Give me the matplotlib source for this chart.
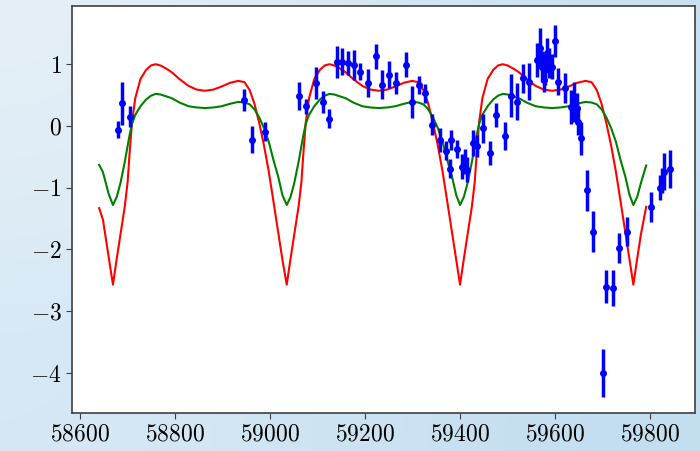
import matplotlib
matplotlib.use("Agg")
import matplotlib.pyplot as plt
import numpy as np

plt.rcParams['font.family'] = 'serif'
plt.rcParams['font.serif'] = ['cmr10', 'DejaVu Serif']
plt.rcParams['mathtext.fontset'] = 'cm'
plt.rcParams['axes.formatter.use_mathtext'] = True

# observed points: time (MJD), value, error
obs_t = [58679, 58689, 58704, 58945, 58961, 58989, 59060, 59076, 59096, 59111,
         59125, 59140, 59151, 59163, 59177, 59189, 59207, 59222, 59235, 59251,
         59265, 59286, 59298, 59314, 59326, 59340, 59358, 59371, 59378, 59381,
         59393, 59404, 59411, 59415, 59427, 59435, 59448, 59463, 59475, 59495,
         59507, 59519, 59533, 59546, 59561, 59568, 59572, 59577, 59579, 59584,
         59588, 59593, 59600, 59607, 59620, 59634, 59641, 59646, 59649, 59654,
         59668, 59679, 59700, 59707, 59723, 59735, 59752, 59802, 59822, 59826,
         59830, 59842]
obs_y = [-0.06, 0.37, 0.15, 0.42, -0.22, -0.09, 0.49, 0.32, 0.69, 0.39,
         0.12, 1.04, 1.04, 1.02, 0.99, 0.88, 0.70, 1.13, 0.67, 0.83,
         0.69, 0.99, 0.39, 0.66, 0.53, 0.02, -0.23, -0.40, -0.69, -0.23,
         -0.37, -0.66, -0.58, -0.71, -0.28, -0.33, -0.04, -0.44, 0.18, -0.16,
         0.49, 0.39, 0.77, 0.72, 1.07, 1.26, 0.96, 0.75, 0.91, 1.18,
         1.02, 0.96, 1.37, 0.72, 0.61, 0.31, 0.39, 0.29, 0.07, -0.20,
         -1.04, -1.71, -4.00, -2.60, -2.63, -1.98, -1.71, -1.31, -1.00, -0.88,
         -0.74, -0.70]
obs_err = [0.14, 0.35, 0.17, 0.18, 0.22, 0.15, 0.23, 0.12, 0.26, 0.18,
           0.16, 0.26, 0.22, 0.19, 0.24, 0.14, 0.23, 0.20, 0.24, 0.22,
           0.18, 0.20, 0.26, 0.15, 0.15, 0.17, 0.19, 0.15, 0.16, 0.16,
           0.15, 0.20, 0.20, 0.20, 0.21, 0.18, 0.24, 0.20, 0.20, 0.23,
           0.35, 0.30, 0.24, 0.30, 0.27, 0.32, 0.25, 0.20, 0.25, 0.25,
           0.25, 0.20, 0.26, 0.22, 0.24, 0.27, 0.33, 0.25, 0.22, 0.27,
           0.33, 0.33, 0.39, 0.26, 0.29, 0.24, 0.23, 0.24, 0.20, 0.20,
           0.30, 0.31]

# model curves
model_t = [58640, 58648, 58660,
           58669, 58677, 58685, 58694, 58700, 58704, 58709, 58716, 58727, 58739,
           58749, 58759, 58769, 58781, 58793, 58809, 58828, 58845, 58863, 58881,
           58898, 58916, 58933, 58946, 58957, 58967, 58977, 58987, 58997, 59007,
           59017, 59026,
           59035, 59043, 59051, 59060, 59066, 59070, 59075, 59082, 59093, 59105,
           59115, 59125, 59135, 59147, 59159, 59175, 59194, 59211, 59229, 59247,
           59264, 59282, 59299, 59312, 59323, 59333, 59343, 59353, 59363, 59373,
           59383, 59392,
           59400, 59408, 59416, 59425, 59431, 59435, 59440, 59447, 59458, 59470,
           59480, 59490, 59500, 59512, 59524, 59540, 59559, 59576, 59594, 59612,
           59629, 59647, 59664, 59677, 59688, 59698, 59708, 59718, 59728, 59738,
           59748, 59757,
           59765, 59773, 59781, 59792]
model_red = [-1.33, -1.52, -2.12,
             -2.57, -2.15, -1.75, -1.30, -0.90, -0.45, 0.05, 0.45, 0.76, 0.91,
             0.98, 1.00, 0.98, 0.93, 0.87, 0.76, 0.65, 0.59, 0.57, 0.59,
             0.64, 0.70, 0.73, 0.71, 0.58, 0.36, 0.05, -0.31, -0.73, -1.22,
             -1.72, -2.17,
             -2.57, -2.15, -1.75, -1.30, -0.90, -0.45, 0.05, 0.45, 0.76, 0.91,
             0.98, 1.00, 0.98, 0.93, 0.87, 0.76, 0.65, 0.59, 0.57, 0.59,
             0.64, 0.70, 0.73, 0.71, 0.58, 0.36, 0.05, -0.31, -0.73, -1.22,
             -1.72, -2.17,
             -2.57, -2.15, -1.75, -1.30, -0.90, -0.45, 0.05, 0.45, 0.76, 0.91,
             0.98, 1.00, 0.98, 0.93, 0.87, 0.76, 0.65, 0.59, 0.57, 0.59,
             0.64, 0.70, 0.73, 0.71, 0.58, 0.36, 0.05, -0.31, -0.73, -1.22,
             -1.72, -2.17,
             -2.57, -2.15, -1.75, -1.31]
model_green = [-0.63, -0.75, -1.10,
               -1.28, -1.15, -0.92, -0.58, -0.32, -0.15, 0.03, 0.18, 0.32, 0.43,
               0.49, 0.52, 0.51, 0.48, 0.45, 0.38, 0.32, 0.30, 0.29, 0.30,
               0.32, 0.36, 0.39, 0.38, 0.35, 0.27, 0.14, -0.03, -0.25, -0.55,
               -0.82, -1.12,
               -1.28, -1.15, -0.92, -0.58, -0.32, -0.15, 0.03, 0.18, 0.32, 0.43,
               0.49, 0.52, 0.51, 0.48, 0.45, 0.38, 0.32, 0.30, 0.29, 0.30,
               0.32, 0.36, 0.39, 0.38, 0.35, 0.27, 0.14, -0.03, -0.25, -0.55,
               -0.82, -1.12,
               -1.28, -1.15, -0.92, -0.58, -0.32, -0.15, 0.03, 0.18, 0.32, 0.43,
               0.49, 0.52, 0.51, 0.48, 0.45, 0.38, 0.32, 0.30, 0.29, 0.30,
               0.32, 0.36, 0.39, 0.38, 0.35, 0.27, 0.14, -0.03, -0.25, -0.55,
               -0.82, -1.12,
               -1.28, -1.15, -0.92, -0.64]

fig = plt.figure(figsize=(7.0, 4.51), dpi=100)

# light blue gradient backdrop behind the axes
bg = fig.add_axes([0, 0, 1, 1], zorder=0)
corners = np.array([[[0.90, 0.94, 0.97], [0.79, 0.88, 0.94]],
                    [[0.84, 0.91, 0.96], [0.76, 0.87, 0.94]]])
bg.imshow(corners, interpolation='bicubic', aspect='auto', extent=[0, 1, 0, 1])
bg.axis('off')

ax = fig.add_axes([0.103, 0.084, 0.890, 0.903], zorder=1)
ax.set_facecolor('white')

ax.plot(model_t, model_red, color='red', lw=1.5)
ax.plot(model_t, model_green, color='green', lw=1.5)
ax.errorbar(obs_t, obs_y, yerr=obs_err, fmt='o', color='blue', ms=4,
            elinewidth=2.5, capsize=0)

ax.set_xlim(58583, 59895)
ax.set_ylim(-4.65, 1.945)
ax.set_xticks([58600, 58800, 59000, 59200, 59400, 59600, 59800])
ax.set_yticks([-4, -3, -2, -1, 0, 1])
ax.tick_params(labelsize=17, color='#404040', length=4)
for s in ax.spines.values():
    s.set_color('#404040')
    s.set_linewidth(1.2)

fig.savefig('out.png', dpi=100)
